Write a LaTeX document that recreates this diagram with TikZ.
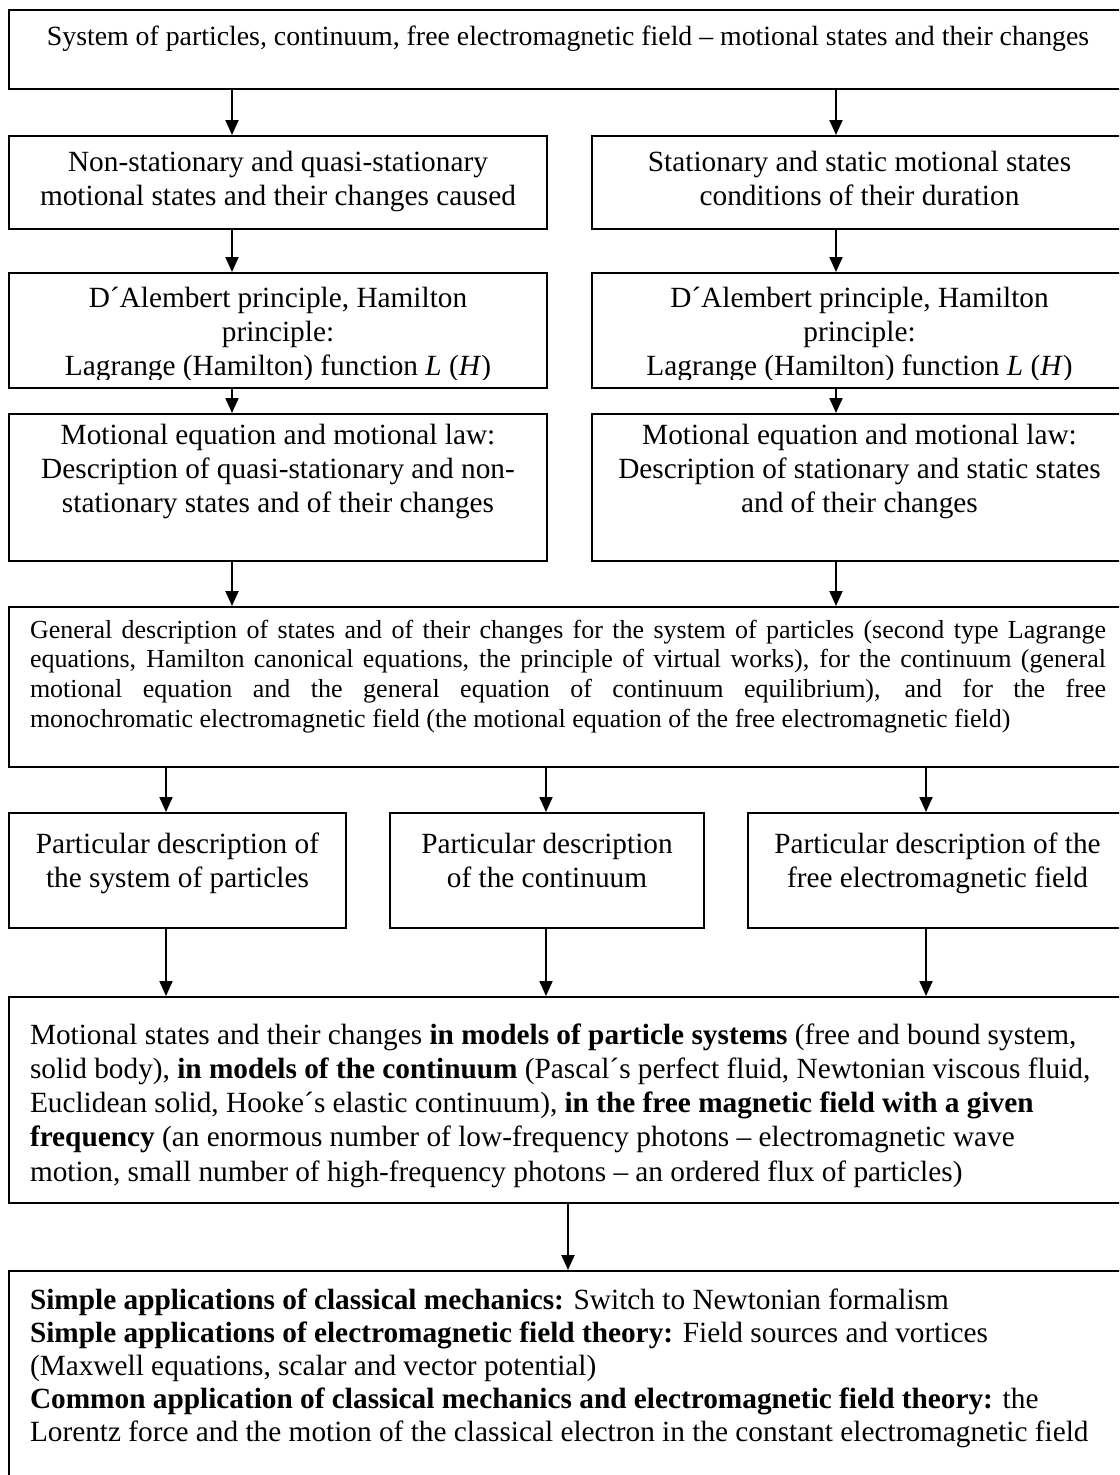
\documentclass[tikz,border=0pt]{standalone}
\usepackage{fontspec}
\setmainfont{Liberation Serif}
\usetikzlibrary{arrows.meta}
\tikzset{
    box/.style={draw, line width=2pt, anchor=north west, inner sep=0pt, inner xsep=#1},
    box/.default=12pt,
    arr/.style={line width=2pt, -{Triangle[length=15pt,width=13pt]}}
}
\newcommand{\mtext}{\fontsize{29.3}{34.3}\selectfont}
\newcommand{\ctext}[4]{\parbox[t][#2][t]{#1}{\mtext\centering\rule{0pt}{#3}#4}}
\newcommand{\ltext}[4]{\parbox[t][#2][t]{#1}{\mtext\raggedright\rule{0pt}{#3}#4}}
\begin{document}
\begin{tikzpicture}[x=1pt,y=-1pt]
    \clip (0,0) rectangle (1119,1475);
    \coordinate (xl) at (232,0);
    \coordinate (xr) at (836,0);
    \coordinate (x1) at (166,0);
    \coordinate (x2) at (546,0);
    \coordinate (x3) at (926,0);
    \coordinate (xm) at (568,0);

    \node[box] (sys) at (8,9) {\parbox[t][79pt][t]{1094pt}{\fontsize{27.8}{33}\selectfont\centering\rule{0pt}{35pt}System of particles, continuum, free electromagnetic field – motional states and their changes}};

    \node[box] (ns) at (8,135) {\ctext{514pt}{93pt}{35pt}{Non-stationary and quasi-stationary\\ motional states and their changes caused}};
    \node[box] (st) at (591,135) {\ctext{511pt}{93pt}{35pt}{Stationary and static motional states\\ conditions of their duration}};

    % text of these two is cut by the frame
    \begin{scope}
        \clip (8,272) rectangle (1126,379);
        \node[box,draw=none] (dlt) at (8,272) {\ctext{514pt}{115pt}{34pt}{D´Alembert principle, Hamilton\\ principle:\\ Lagrange (Hamilton) function \textit{L} (\textit{H})}};
        \node[box,draw=none] (drt) at (591,272) {\ctext{511pt}{115pt}{34pt}{D´Alembert principle, Hamilton\\ principle:\\ Lagrange (Hamilton) function \textit{L} (\textit{H})}};
    \end{scope}
    \node[box, minimum width=538pt, minimum height=115pt] (dl) at (8,272) {};
    \node[box, minimum width=535pt, minimum height=115pt] (dr) at (591,272) {};

    \node[box] (ml) at (8,413) {\ctext{514pt}{147pt}{30pt}{Motional equation and motional law:\\ Description of quasi-stationary and non-\\ stationary states and of their changes}};
    \node[box] (mr) at (591,413) {\ctext{511pt}{147pt}{30pt}{Motional equation and motional law:\\ Description of stationary and static states\\ and of their changes}};

    \node[box=21pt] (gen) at (8,606) {\parbox[t][160pt][t]{1076pt}{\fontsize{26}{29.8}\selectfont\rule{0pt}{31pt}General description of states and of their changes for the system of particles (second type Lagrange\linebreak equations, Hamilton canonical equations, the principle of virtual works), for the continuum (general\linebreak motional equation and the general equation of continuum equilibrium), and for the free\linebreak monochromatic electromagnetic field (the motional equation of the free electromagnetic field)}};

    \node[box] (pp) at (8,812) {\ctext{313pt}{115pt}{40pt}{Particular description of\\ the system of particles}};
    \node[box] (pc) at (389,812) {\ctext{290pt}{115pt}{40pt}{Particular description\\ of the continuum}};
    \node[box] (pf) at (747,812) {\ctext{355pt}{115pt}{40pt}{Particular description of the\\ free electromagnetic field}};

    \node[box=21pt] (mod) at (8,996) {\ltext{1095pt}{206pt}{47pt}{Motional states and their changes \textbf{in models of particle systems} (free and bound system,\\ solid body), \textbf{in models of the continuum} (Pascal´s perfect fluid, Newtonian viscous fluid,\\ Euclidean solid, Hooke´s elastic continuum), \textbf{in the free magnetic field with a given}\\ \textbf{frequency} (an enormous number of low-frequency photons – electromagnetic wave\\ motion, small number of high-frequency photons – an ordered flux of particles)}};

    \node[box=21pt] (app) at (8,1270) {\ltext{1095pt}{300pt}{38pt}{\fontsize{29.3}{33.2}\selectfont\textbf{Simple applications of classical mechanics:} Switch to Newtonian formalism\\ \textbf{Simple applications of electromagnetic field theory:} Field sources and vortices\\ (Maxwell equations, scalar and vector potential)\\ \textbf{Common application of classical mechanics and electromagnetic field theory:} the\\ Lorentz force and the motion of the classical electron in the constant electromagnetic field}};

    \draw[arr] (sys.south -| xl) -- (ns.north -| xl);
    \draw[arr] (sys.south -| xr) -- (st.north -| xr);
    \draw[arr] (ns.south -| xl) -- (dl.north -| xl);
    \draw[arr] (st.south -| xr) -- (dr.north -| xr);
    \draw[arr] (dl.south -| xl) -- (ml.north -| xl);
    \draw[arr] (dr.south -| xr) -- (mr.north -| xr);
    \draw[arr] (ml.south -| xl) -- (gen.north -| xl);
    \draw[arr] (mr.south -| xr) -- (gen.north -| xr);
    \draw[arr] (gen.south -| x1) -- (pp.north -| x1);
    \draw[arr] (gen.south -| x2) -- (pc.north -| x2);
    \draw[arr] (gen.south -| x3) -- (pf.north -| x3);
    \draw[arr] (pp.south -| x1) -- (mod.north -| x1);
    \draw[arr] (pc.south -| x2) -- (mod.north -| x2);
    \draw[arr] (pf.south -| x3) -- (mod.north -| x3);
    \draw[arr] (mod.south -| xm) -- (app.north -| xm);
\end{tikzpicture}
\end{document}
